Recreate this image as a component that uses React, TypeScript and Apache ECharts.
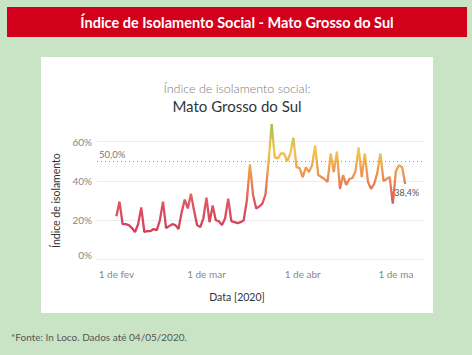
import React, { useEffect, useRef } from "react";
import * as echarts from "echarts";

// Daily social isolation index (%), 1 Feb 2020 .. 4 May 2020
const startDate = "2020-02-01";
const isolationValues: number[] = [
  22, 29.5, 18, 18, 17.5, 16, 14, 18, 26.5, 14, 14.5, 14.5, 15.5, 15,
  20, 29.5, 16, 17, 18, 17.5, 15.5, 24, 30.5, 26, 33.5, 25, 17.5, 16.5,
  21, 31.5, 19, 27.5, 20, 19.5, 17.5, 21, 31, 19.5, 19, 18.5, 19, 20,
  30, 48.5, 33, 26, 27, 28.5, 33, 50, 69, 52, 51.5, 54, 54, 50,
  54, 62, 47, 46.5, 42, 47, 44.5, 48, 58, 43, 42, 41, 39.5, 54,
  44.5, 55, 36, 43, 38, 41, 41.5, 45, 57, 42, 54, 39.5, 36, 38.5,
  44, 54, 40, 41, 42, 28.5, 45, 48, 47, 38.4,
];
// Month tick positions (day offsets from startDate) and labels
const tickDays: number[] = [0, 29, 60, 90];
const tickLabels: string[] = ["1 de fev", "1 de mar", "1 de abr", "1 de ma"];
const referenceValue = 50;

const pct = (v: number) => v.toFixed(1).replace(".", ",") + "%";

export default function App() {
  const ref = useRef<HTMLDivElement>(null);

  useEffect(() => {
    if (!ref.current) return;
    const chart = echarts.init(ref.current, undefined, { renderer: "svg" });
    const seriesData = isolationValues.map((v, i) => [i, v]);

    const option: any = {
      animation: false,
      backgroundColor: "#c9e4c4",
      graphic: [
        { type: "rect", shape: { x: 7, y: 7, width: 460, height: 30 }, style: { fill: "#d2001a" }, z: 0 },
        {
          type: "text",
          x: 237,
          y: 22,
          style: {
            text: "Índice de Isolamento Social - Mato Grosso do Sul",
            fill: "#ffffff",
            font: "bold 14.5px Lato",
            align: "center",
            verticalAlign: "middle",
          },
        },
        { type: "rect", shape: { x: 41, y: 57, width: 392, height: 256 }, style: { fill: "#ffffff" }, z: -1 },
        {
          type: "text",
          x: 237,
          y: 88,
          style: {
            text: "Índice de isolamento social:",
            fill: "#7a7a7a",
            font: "300 12.5px Lato",
            align: "center",
            verticalAlign: "middle",
          },
        },
        {
          type: "text",
          x: 237,
          y: 106,
          style: {
            text: "Mato Grosso do Sul",
            fill: "#2f3640",
            font: "15px Lato",
            align: "center",
            verticalAlign: "middle",
          },
        },
        {
          type: "text",
          x: 237,
          y: 297,
          style: {
            text: "Data [2020]",
            fill: "#333",
            font: "10.5px Lato",
            align: "center",
            verticalAlign: "middle",
          },
        },
        {
          type: "text",
          x: 11,
          y: 337,
          style: {
            text: "*Fonte: In Loco. Dados até 04/05/2020.",
            fill: "#555",
            font: "10px Lato",
            align: "left",
            verticalAlign: "middle",
          },
        },
      ],
      grid: { left: 97, right: 48, top: 141.7, bottom: 95.5 },
      xAxis: {
        type: "value",
        min: -6.25,
        max: 99.05,
        axisLine: { show: false },
        splitLine: { show: false },
        axisTick: { show: false },
        axisLabel: {
          customValues: tickDays,
          formatter: (val: number) => {
            const k = tickDays.indexOf(Math.round(val));
            return k >= 0 ? tickLabels[k] : "";
          },
          color: "#888",
          fontSize: 10,
          fontFamily: "Lato",
          margin: 9,
        },
      },
      yAxis: {
        type: "value",
        min: 0,
        max: 60,
        interval: 20,
        axisLine: { show: false },
        axisTick: { show: false },
        splitLine: { show: true, lineStyle: { color: "#ececec", width: 1 } },
        axisLabel: {
          formatter: (val: number) => (val === 0 ? "{z|0%}" : val + "%"),
          rich: { z: { padding: [0, 0, 10, 0], color: "#888", fontSize: 10, fontFamily: "Lato" } },
          color: "#888",
          fontSize: 10,
          fontFamily: "Lato",
          margin: 5,
        },
        name: "Índice de isolamento",
        nameLocation: "middle",
        nameGap: 33,
        nameTextStyle: { color: "#333", fontSize: 10.5, fontFamily: "Lato" },
      },
      visualMap: {
        type: "continuous",
        show: false,
        dimension: 1,
        seriesIndex: 0,
        min: 14,
        max: 69,
        inRange: { color: ["#d23e5c", "#dd5360", "#ec8b53", "#f3c54d", "#9cc25a"] },
      },
      series: [
        {
          type: "line",
          data: seriesData,
          showSymbol: false,
          symbol: "none",
          clip: false,
          lineStyle: { width: 2.3 },
          endLabel: {
            show: true,
            formatter: (p: any) => pct(p.value[1]),
            color: "#555",
            fontSize: 9,
            fontFamily: "Lato",
            distance: 0,
            offset: [-11, 8],
          },
          markLine: {
            silent: true,
            symbol: "none",
            data: [{ yAxis: referenceValue }],
            lineStyle: { type: [1, 3], color: "#999", width: 1 },
            label: {
              show: true,
              position: "insideStartTop",
              formatter: () => pct(referenceValue),
              color: "#777",
              fontSize: 9.5,
              fontFamily: "Lato",
              distance: [2, 2],
            },
          },
        },
      ],
    };
    void startDate;
    chart.setOption(option);
    return () => chart.dispose();
  }, []);

  return (
    <div
      ref={ref}
      style={{ position: "fixed", left: 0, top: 0, width: 472, height: 355 }}
    />
  );
}
